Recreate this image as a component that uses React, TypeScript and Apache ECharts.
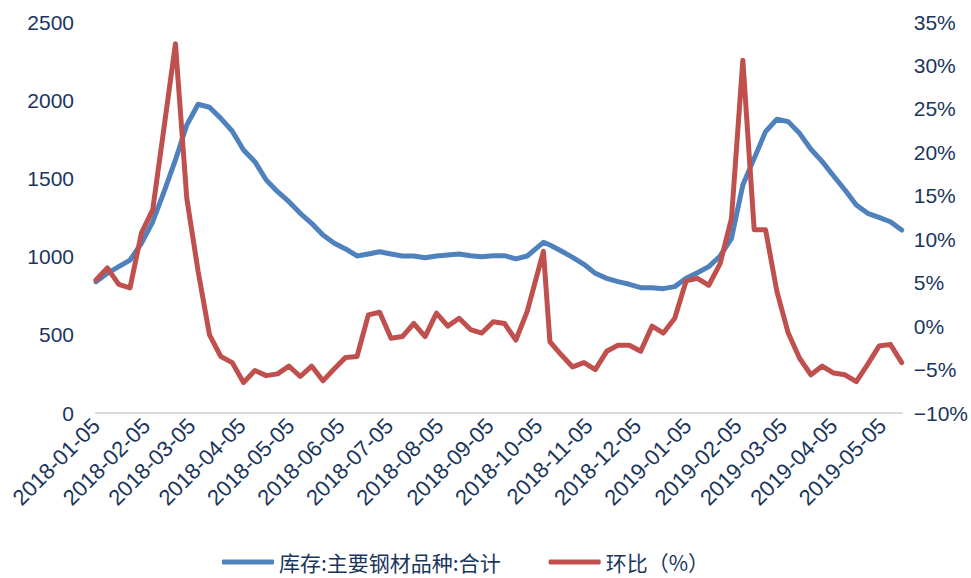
import React, { useEffect, useRef } from "react";
import * as echarts from "echarts";

// Weekly observation dates (the 2018 National Day week was published on Monday 10-08)
const obsDates: string[] = [
  "2018-01-05", "2018-01-12", "2018-01-19", "2018-01-26", "2018-02-02", "2018-02-09",
  "2018-02-16", "2018-02-23", "2018-03-02", "2018-03-09", "2018-03-16", "2018-03-23",
  "2018-03-30", "2018-04-06", "2018-04-13", "2018-04-20", "2018-04-27", "2018-05-04",
  "2018-05-11", "2018-05-18", "2018-05-25", "2018-06-01", "2018-06-08", "2018-06-15",
  "2018-06-22", "2018-06-29", "2018-07-06", "2018-07-13", "2018-07-20", "2018-07-27",
  "2018-08-03", "2018-08-10", "2018-08-17", "2018-08-24", "2018-08-31", "2018-09-07",
  "2018-09-14", "2018-09-21", "2018-09-28", "2018-10-08", "2018-10-12", "2018-10-19",
  "2018-10-26", "2018-11-02", "2018-11-09", "2018-11-16", "2018-11-23", "2018-11-30",
  "2018-12-07", "2018-12-14", "2018-12-21", "2018-12-28", "2019-01-04", "2019-01-11",
  "2019-01-18", "2019-01-25", "2019-02-01", "2019-02-08", "2019-02-15", "2019-02-22",
  "2019-03-01", "2019-03-08", "2019-03-15", "2019-03-22", "2019-03-29", "2019-04-05",
  "2019-04-12", "2019-04-19", "2019-04-26", "2019-05-03", "2019-05-10", "2019-05-17",
];

// 库存:主要钢材品种:合计 (万吨)
const stockTotal: number[] = [
  839, 893, 936, 978, 1085, 1223, 1415, 1618, 1841, 1974,
  1955, 1884, 1803, 1682, 1607, 1490, 1415, 1351, 1277, 1213,
  1138, 1085, 1049, 1004, 1017, 1031, 1017, 1004, 1004, 993,
  1004, 1010, 1017, 1006, 999, 1006, 1006, 985, 1004, 1091,
  1074, 1036, 995, 951, 893, 861, 840, 823, 801, 801,
  795, 808, 861, 897, 936, 1004, 1117, 1458, 1628, 1799,
  1878, 1863, 1788, 1686, 1607, 1515, 1426, 1330, 1277, 1251,
  1223, 1170,
];

// 环比 (%)
const weekOnWeek: number[] = [
  5.3, 6.7, 4.8, 4.4, 10.7, 13.4, 22.9, 32.5, 14.7, 6.3,
  -1.0, -3.5, -4.2, -6.5, -5.1, -5.7, -5.5, -4.6, -5.8, -4.6,
  -6.3, -4.9, -3.6, -3.5, 1.3, 1.6, -1.4, -1.2, 0.3, -1.2,
  1.5, 0.0, 0.9, -0.4, -0.8, 0.5, 0.3, -1.6, 1.7, 8.6,
  -1.8, -3.3, -4.7, -4.2, -5.0, -2.9, -2.2, -2.2, -2.9, 0.0,
  -0.8, 0.9, 5.2, 5.5, 4.7, 7.2, 12.4, 30.6, 11.1, 11.1,
  4.0, -0.8, -3.7, -5.6, -4.6, -5.4, -5.6, -6.4, -4.4, -2.3,
  -2.1, -4.2,
];

const seriesNames: string[] = ["库存:主要钢材品种:合计", "环比（%）"];

const leftTicks = { min: 0, max: 2500, interval: 500 };
const rightTicks = { min: -10, max: 35, interval: 5 };

const NAVY = "#1b365d";
const BLUE = "#4f81bd";
const RED = "#c0504d";

// Daily calendar between the first and last observation, used as a date-proportional axis
function buildDays(first: string, last: string): string[] {
  const out: string[] = [];
  const start = Date.parse(first + "T00:00:00Z");
  const end = Date.parse(last + "T00:00:00Z");
  for (let t = start; t <= end; t += 86400000) {
    out.push(new Date(t).toISOString().slice(0, 10));
  }
  return out;
}

export default function App() {
  const ref = useRef<HTMLDivElement>(null);

  useEffect(() => {
    if (!ref.current) return;
    const chart = echarts.init(ref.current, undefined, { renderer: "svg" });

    const days = buildDays(obsDates[0], obsDates[obsDates.length - 1]);
    const dayIndex: Record<string, number> = {};
    days.forEach((d, i) => (dayIndex[d] = i));

    const stockData = obsDates.map((d, i) => [dayIndex[d], stockTotal[i]]);
    const wowData = obsDates.map((d, i) => [dayIndex[d], weekOnWeek[i]]);

    const font = "'Liberation Sans', Arial, sans-serif";

    chart.setOption({
      animation: false,
      backgroundColor: "#ffffff",
      textStyle: { fontFamily: font },
      grid: { left: 96, right: 68, top: 22, bottom: 165, containLabel: false },
      legend: {
        left: 222,
        top: 550,
        icon: "roundRect",
        itemWidth: 52,
        itemHeight: 5,
        itemGap: 48,
        padding: 0,
        textStyle: {
          fontFamily: "'Noto Sans CJK SC', sans-serif",
          fontSize: 21,
          lineHeight: 24,
          color: NAVY,
        },
        data: seriesNames,
      },
      xAxis: {
        type: "category",
        data: days,
        boundaryGap: false,
        axisLine: { show: true, lineStyle: { color: "#d9d9d9", width: 2 } },
        axisTick: { show: false },
        splitLine: { show: false },
        axisLabel: {
          interval: (_i: number, v: string) => v.slice(8) === "05",
          rotate: 45,
          margin: 9,
          fontSize: 22,
          color: NAVY,
          fontFamily: font,
        },
      },
      yAxis: [
        {
          type: "value",
          ...leftTicks,
          axisLine: { show: false },
          axisTick: { show: false },
          splitLine: { show: false },
          axisLabel: {
            fontSize: 21,
            color: NAVY,
            margin: 22,
            fontFamily: font,
            formatter: (v: number) => String(v),
          },
        },
        {
          type: "value",
          position: "right",
          ...rightTicks,
          axisLine: { show: false },
          axisTick: { show: false },
          splitLine: { show: false },
          axisLabel: {
            fontSize: 21,
            color: NAVY,
            margin: 12,
            fontFamily: font,
            formatter: (v: number) => (v < 0 ? "\u2212" : "") + Math.abs(v) + "%",
          },
        },
      ],
      series: [
        {
          name: seriesNames[0],
          type: "line",
          yAxisIndex: 0,
          data: stockData,
          showSymbol: false,
          color: BLUE,
          lineStyle: { color: BLUE, width: 5, cap: "round", join: "round" },
        },
        {
          name: seriesNames[1],
          type: "line",
          yAxisIndex: 1,
          data: wowData,
          showSymbol: false,
          color: RED,
          lineStyle: { color: RED, width: 5, cap: "round", join: "round" },
        },
      ],
    });

    return () => chart.dispose();
  }, []);

  return (
    <div
      ref={ref}
      style={{ position: "absolute", left: 0, top: 0, width: 971, height: 578 }}
    />
  );
}
